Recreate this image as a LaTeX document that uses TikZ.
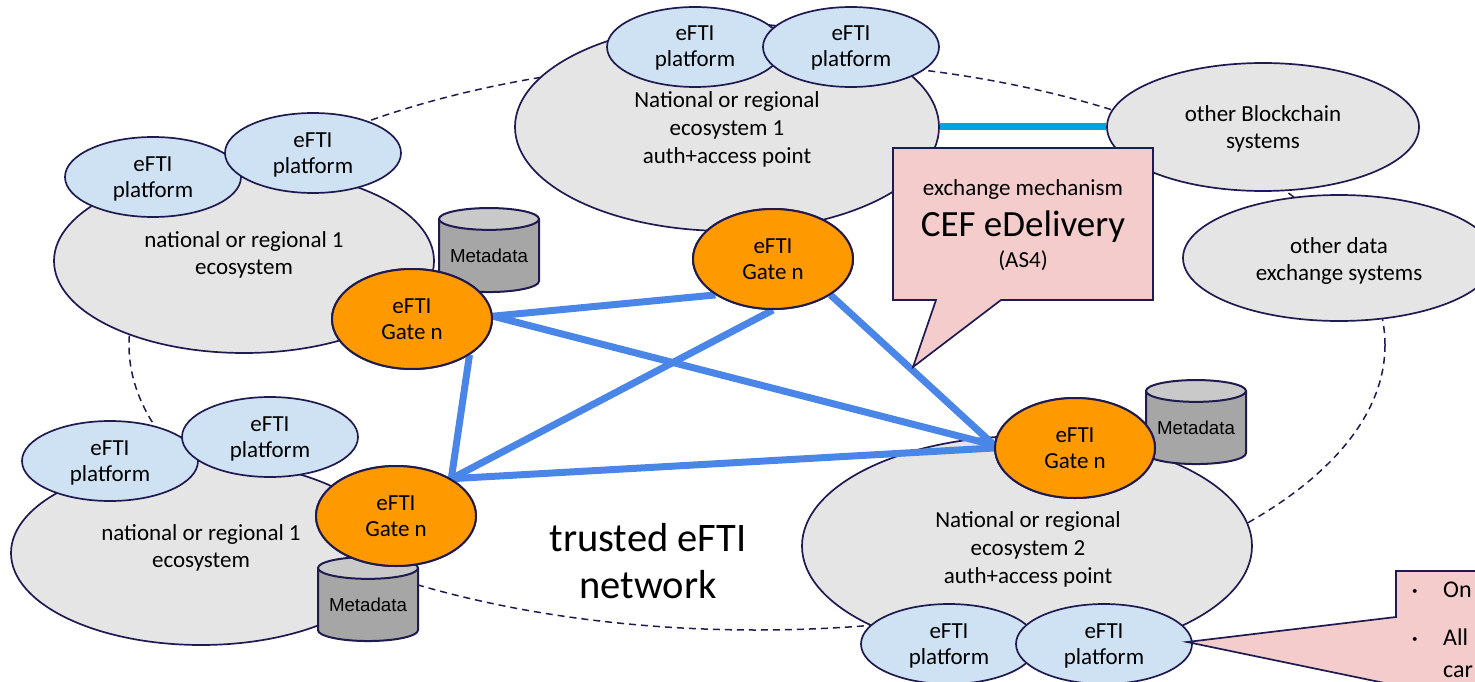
\documentclass[tikz,border=0pt]{standalone}
\usepackage{fontspec}
\setmainfont{Carlito}
\newfontfamily\arialf{Liberation Sans}
\usetikzlibrary{shapes.geometric}
\definecolor{navy}{HTML}{1F1A4F}
\definecolor{ecogrey}{HTML}{E5E5E5}
\definecolor{platblue}{HTML}{CFE2F3}
\definecolor{gateor}{HTML}{FF9900}
\definecolor{netblue}{HTML}{4A86E8}
\definecolor{linkcyan}{HTML}{00A3E0}
\definecolor{callpink}{HTML}{F4CCCC}
\definecolor{cylbody}{HTML}{A6A6A6}
\definecolor{cyltop}{HTML}{C9C9C9}
\newcommand{\lowa}{\rule{0pt}{17pt}}
\newcommand{\lowb}{\rule{0pt}{19pt}}
\newcommand{\lowc}{\rule{0pt}{21pt}}
\tikzset{
  x=1pt,y=-1pt,
  ell/.style={ellipse,draw=navy,line width=1.7pt,inner sep=0pt,align=center,font=\fontsize{23}{26}\selectfont,text=black},
  eco/.style={ell,fill=ecogrey},
  ecotxt/.style={font=\fontsize{23}{28}\selectfont,align=center,text=black},
  ecotxttwo/.style={font=\fontsize{23}{26.5}\selectfont,align=center,text=black},
  plat/.style={ell,fill=platblue,minimum width=176pt,minimum height=80pt},
  gate/.style={ell,fill=gateor,line width=2pt,minimum width=160pt,minimum height=100pt},
  meta/.style={cylinder,shape border rotate=90,aspect=0.28,draw=navy,line width=2pt,cylinder uses custom fill,cylinder body fill=cylbody,cylinder end fill=cyltop,minimum width=100pt,minimum height=84pt,inner sep=0pt,font=\arialf\fontsize{18.7}{22}\selectfont,text=black},
  netlink/.style={draw=netblue,line width=7pt},
  dashring/.style={ellipse,draw=navy,line width=1.5pt,dash pattern=on 7pt off 5pt,minimum width=1256pt,minimum height=570pt,inner sep=0pt},
  call/.style={fill=callpink,draw=navy,line width=1.7pt,line join=miter},
  calltxt/.style={font=\fontsize{24}{26}\selectfont,text=black},
}
\begin{document}
\begin{tikzpicture}
\useasboundingbox (0,0) rectangle (1475,682);
\clip (0,0) rectangle (1475,682);
\node[dashring] (ring) at (757,345) {};
% ecosystems
\node[eco,minimum width=424pt,minimum height=208pt] (ecoT) at (727,127) {};
\node[ecotxt] (ecoTt) at (727,129) {National or regional\\ecosystem 1\\auth+access point};
\node[plat] (pT1) at (695,47) {\lowa eFTI\\platform};
\node[plat] (pT2) at (851,47) {\lowa eFTI\\platform};
\node[eco,minimum width=312pt,minimum height=128pt,font=\fontsize{23}{27}\selectfont] (chain) at (1263,127) {\lowb other Blockchain\\systems};
\node[eco,minimum width=312pt,minimum height=126pt,font=\fontsize{23}{27}\selectfont] (other) at (1339,258) {\lowc other data\\exchange systems};
\draw[draw=linkcyan,line width=7pt] (ecoT.east) -- (chain.west);
\node[eco,minimum width=380pt,minimum height=184pt] (ecoL) at (244,261) {};
\node[ecotxttwo] (ecoLt) at (244,255) {national or regional 1\\ecosystem};
\node[plat] (pL1) at (153,177) {\lowb eFTI\\platform};
\node[plat] (pL2) at (313,153) {\lowb eFTI\\platform};
\node[eco,minimum width=380pt,minimum height=184pt] (ecoB) at (201,553) {};
\node[ecotxttwo] (ecoBt) at (201,548) {national or regional 1\\ecosystem};
\node[plat] (pB1) at (110,461) {\lowb eFTI\\platform};
\node[plat] (pB2) at (270,437) {\lowb eFTI\\platform};
\node[eco,minimum width=450pt,minimum height=220pt] (ecoR) at (1027,546) {};
\node[ecotxt] (ecoRt) at (1028,549) {National or regional\\ecosystem 2\\auth+access point};
\node[plat] (pR1) at (949,644) {\lowb eFTI\\platform};
\node[plat] (pR2) at (1104,644) {\lowb eFTI\\platform};
% metadata
\node[meta] (m1) at (489,256) {Metadata};
\node[meta] (m2) at (1196,428) {Metadata};
\node[meta] (m3) at (368,605) {Metadata};
% gates
\node[gate] (g1) at (412,319) {eFTI\\Gate n};
\node[gate] (g2) at (773,259) {eFTI\\Gate n};
\node[gate] (g3) at (1075,448) {eFTI\\Gate n};
\node[gate] (g4) at (396,516) {eFTI\\Gate n};
\draw[netlink] (g1.2) -- (g2.212);
\draw[netlink] (g1.2) -- (g3.178);
\draw[netlink] (g1.328) -- (g4.34);
\draw[netlink] (g2.270) -- (g4.34);
\draw[netlink] (g2.328) -- (g3.178);
\draw[netlink] (g4.34) -- (g3.180);
\node[gate] at (g1) {eFTI\\Gate n};
\node[gate] at (g2) {eFTI\\Gate n};
\node[gate] at (g3) {eFTI\\Gate n};
\node[gate] at (g4) {eFTI\\Gate n};
\node[font=\fontsize{40.5}{47}\selectfont,align=center,text=black] (net) at (648,561) {trusted eFTI\\network};
% callouts
\draw[call] (893,148) -- (1153,148) -- (1153,300) -- (1001,300) -- (913,367) -- (936,300) -- (893,300) -- cycle;
\node[calltxt,font=\fontsize{23}{24}\selectfont] (c1) at (1023,189) {exchange mechanism};
\node[calltxt,font=\fontsize{37}{40}\selectfont] (c2) at (1023,227) {CEF eDelivery};
\node[calltxt,font=\fontsize{23}{24}\selectfont] (c3) at (1023,261) {(AS4)};
\draw[call] (1500,571) -- (1396,571) -- (1396,617) -- (1187,642) -- (1500,707);
\node[calltxt,anchor=base west,inner sep=0pt,font=\fontsize{11}{14}\selectfont] (b1) at (1412,594) {•};
\node[calltxt,anchor=base west,inner sep=0pt] (t1) at (1443,597) {On};
\node[calltxt,anchor=base west,inner sep=0pt,font=\fontsize{11}{14}\selectfont] (b2) at (1412,642) {•};
\node[calltxt,anchor=base west,inner sep=0pt] (t2) at (1443,645) {All};
\node[calltxt,anchor=base west,inner sep=0pt] (t3) at (1443,677) {car};
\end{tikzpicture}
\end{document}
